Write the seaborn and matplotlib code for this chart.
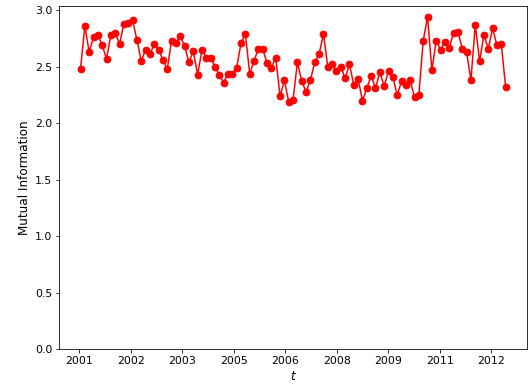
import numpy as np
import pandas as pd
import matplotlib
matplotlib.use("Agg")
import matplotlib.pyplot as plt
import seaborn as sns

# Mutual information estimates, one per sampling window
mutual_info = [
    2.48, 2.86, 2.63, 2.76, 2.78, 2.69, 2.57, 2.78, 2.80, 2.70,
    2.88, 2.89, 2.91, 2.74, 2.55, 2.65, 2.61, 2.70, 2.65, 2.56,
    2.48, 2.73, 2.71, 2.77, 2.68, 2.54, 2.64, 2.43, 2.65, 2.58,
    2.58, 2.50, 2.43, 2.36, 2.44, 2.44, 2.49, 2.71, 2.79, 2.44,
    2.55, 2.66, 2.66, 2.53, 2.49, 2.58, 2.24, 2.38, 2.19, 2.21,
    2.54, 2.37, 2.28, 2.38, 2.54, 2.61, 2.79, 2.50, 2.52, 2.46,
    2.50, 2.40, 2.52, 2.34, 2.39, 2.20, 2.31, 2.42, 2.31, 2.45,
    2.33, 2.46, 2.41, 2.25, 2.37, 2.34, 2.38, 2.23, 2.25, 2.73,
    2.94, 2.47, 2.73, 2.65, 2.72, 2.67, 2.80, 2.81, 2.66, 2.63,
    2.38, 2.87, 2.55, 2.78, 2.66, 2.84, 2.69, 2.70, 2.32,
]

# Sampling windows: regular steps of ~44 days, in decimal years
t_start = 2001.05
t_step = 0.1205
t = t_start + t_step * np.arange(len(mutual_info))

# Tick positions (decimal years) and their year labels
tick_pos = [2001.02, 2002.45, 2003.88, 2005.31, 2006.74, 2008.17, 2009.60, 2011.03, 2012.46]
tick_labels = ["2001", "2002", "2003", "2005", "2006", "2008", "2009", "2011", "2012"]

df = pd.DataFrame({"t": t, "mi": mutual_info})

fig = plt.figure(figsize=(529 / 72, 387 / 72), dpi=72)
ax = fig.add_axes([0.112, 0.0974, 0.884, 0.8879])

sns.lineplot(data=df, x="t", y="mi", ax=ax, color="red", marker="o",
             markersize=7, markeredgecolor="red", linewidth=1.5)

ax.set_ylim(0, 3.04)
ax.set_xticks(tick_pos)
ax.set_xticklabels(tick_labels)
ax.tick_params(labelsize=11)
ax.set_xlabel("$t$", fontsize=12)
ax.set_ylabel("Mutual Information", fontsize=12)

fig.savefig("out.png", dpi=72)
